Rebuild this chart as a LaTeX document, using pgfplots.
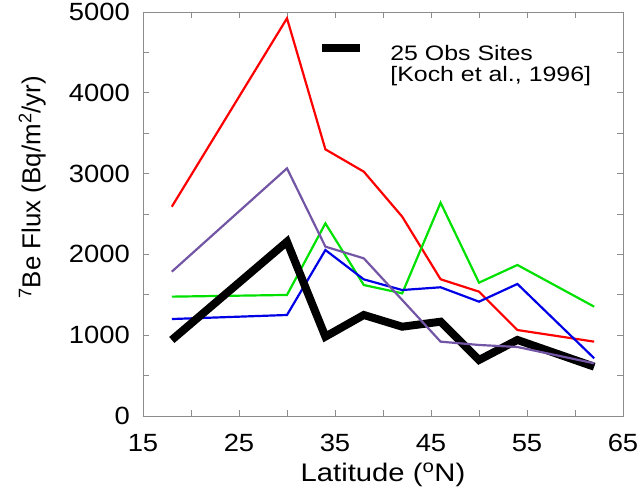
\documentclass[border=0pt]{standalone}
\usepackage{pgfplots}
\pgfplotsset{compat=1.18}
\usepackage{fontspec}
\setmainfont{Liberation Sans}[FakeStretch=1.15]
\newfontfamily\ylabfont{Liberation Sans}
\newfontfamily\tickfont{Liberation Sans}[FakeStretch=1.1]
\newfontfamily\legfont{Liberation Sans}[FakeStretch=1.19]
\definecolor{cred}{RGB}{255,0,0}
\definecolor{cgreen}{RGB}{0,225,0}
\definecolor{cblue}{RGB}{0,0,230}
\definecolor{cpurple}{RGB}{115,85,165}
\definecolor{cframe}{RGB}{140,140,140}
\begin{document}
\fontsize{21}{20}\selectfont
\begin{tikzpicture}
\begin{axis}[name=ax, scale only axis, width=480bp, height=404bp,
  xmin=15, xmax=65, ymin=0, ymax=5000,
  xtick={15,25,35,45,55,65}, minor xtick={20,30,40,50,60},
  ytick={0,1000,2000,3000,4000,5000}, minor ytick={500,1500,2500,3500,4500},
  tick align=inside, major tick length=6bp, minor tick length=6bp,
  every tick/.style={cframe, line width=0.8pt},
  axis line style={cframe, line width=0.8pt},
  /pgf/number format/assume math mode=true,
  /pgf/number format/1000 sep={},
  tick label style={font=\tickfont\fontsize{25}{28}\selectfont, black},
  xticklabel style={yshift=-11bp},
  yticklabel style={xshift=-6bp},
  xlabel={Latitude (\textsuperscript{o}N)},
  ylabel={\ylabfont\textsuperscript{7}Be Flux (Bq/m\textsuperscript{2}/yr)},
  xlabel style={font=\fontsize{25.5}{28}\selectfont, at={(axis description cs:0.5,-0.146)}, anchor=center},
  ylabel style={font=\ylabfont\fontsize{26}{30}\selectfont, at={(axis description cs:-0.231,0.566)}, anchor=center},
  legend style={at={(rel axis cs:0.364,0.921)}, anchor=north west, draw=none, fill=none,
    font=\legfont\fontsize{21}{20}\selectfont, inner sep=0pt, row sep=0pt,
    nodes={inner xsep=14.5bp, inner ysep=0pt}},
  legend cell align=left,
  legend image code/.code={\draw[#1] (0bp,0.3em) -- (38bp,0.3em); \path (50bp,0.3em);},
]
\addplot[cred, line width=2.2pt, forget plot] coordinates {
 (18,2590) (30,4922) (34,3300) (38,3024) (42,2467) (46,1692) (50,1539) (54,1064) (62,920)};
\addplot[cgreen, line width=2.2pt, forget plot] coordinates {
 (18,1477) (30,1498) (34,2384) (38,1621) (42,1518) (46,2640) (50,1650) (54,1869) (62,1353)};
\addplot[cblue, line width=2.2pt, forget plot] coordinates {
 (18,1200) (30,1250) (34,2054) (38,1691) (42,1559) (46,1593) (50,1415) (54,1634) (62,714)};
\addplot[black, line width=8pt, line join=miter] coordinates {
 (18,941) (30,2157) (34,982) (38,1250) (42,1105) (46,1167) (50,693) (54,941) (62,610)};
\addlegendentry{\begin{tabular}[t]{@{}l@{}}25 Obs Sites\\ {[Koch et al., 1996]}\end{tabular}}
\addplot[cpurple, line width=2.2pt, forget plot] coordinates {
 (18,1786) (30,3065) (34,2096) (38,1951) (42,1436) (46,920) (50,879) (54,854) (62,652)};
\end{axis}
\pgfresetboundingbox
\path ([xshift=-143bp,yshift=-77bp]ax.south west) rectangle ([xshift=20bp,yshift=12bp]ax.north east);
\end{tikzpicture}
\end{document}
